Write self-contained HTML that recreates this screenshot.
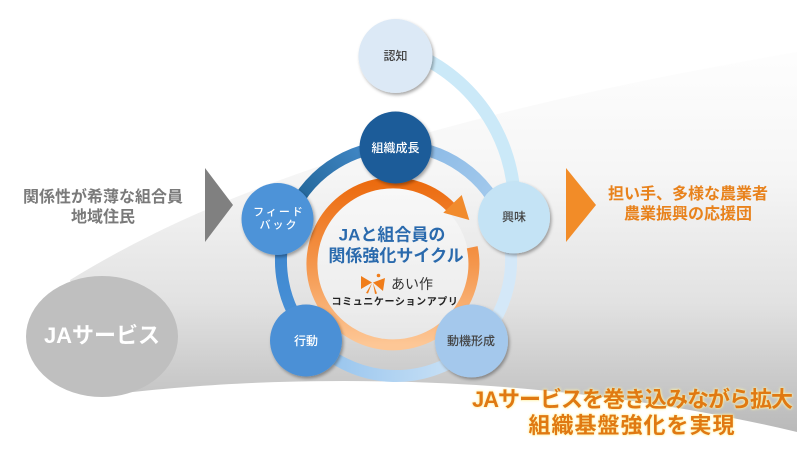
<!DOCTYPE html>
<html><head><meta charset="utf-8">
<style>
html,body{margin:0;padding:0;background:#fff;}
#c{position:relative;width:810px;height:456px;overflow:hidden;background:#fff;font-family:"Liberation Sans","Noto Sans CJK JP",sans-serif;}
svg{position:absolute;left:0;top:0;}
.t{position:absolute;transform:translate(-50%,-50%);white-space:nowrap;line-height:1;text-align:center;}
</style></head><body><div id="c">
<svg width="810" height="456" viewBox="0 0 810 456">
<defs>
 <linearGradient id="bg" gradientUnits="userSpaceOnUse" x1="0" y1="60" x2="0" y2="432">
  <stop offset="0" stop-color="#fdfdfd"/>
  <stop offset="0.3" stop-color="#f6f6f6"/>
  <stop offset="0.65" stop-color="#e2e2e2"/>
  <stop offset="1" stop-color="#b9b9b9"/>
 </linearGradient>
 <linearGradient id="g1" gradientUnits="userSpaceOnUse" x1="288" y1="221" x2="396" y2="146">
  <stop offset="0" stop-color="#1b5e8e"/><stop offset="1" stop-color="#4b92d4"/>
 </linearGradient>
 <linearGradient id="g2" gradientUnits="userSpaceOnUse" x1="396" y1="146" x2="504" y2="221">
  <stop offset="0" stop-color="#86b6e4"/><stop offset="1" stop-color="#a8cdee"/>
 </linearGradient>
 <linearGradient id="g4" gradientUnits="userSpaceOnUse" x1="475" y1="345" x2="310" y2="337">
  <stop offset="0" stop-color="#d0e5f7"/><stop offset="1" stop-color="#90c0ec"/>
 </linearGradient>
 <linearGradient id="g5" gradientUnits="userSpaceOnUse" x1="310" y1="337" x2="288" y2="221">
  <stop offset="0" stop-color="#4b93d9"/><stop offset="1" stop-color="#3b84cc"/>
 </linearGradient>
 <linearGradient id="go" gradientUnits="userSpaceOnUse" x1="0" y1="183" x2="0" y2="345">
  <stop offset="0" stop-color="#ec6b0f"/><stop offset="0.5" stop-color="#f4964c"/><stop offset="1" stop-color="#fdc796"/>
 </linearGradient>
 <filter id="sh" x="-30%" y="-30%" width="160%" height="160%">
  <feDropShadow dx="1.5" dy="2" stdDeviation="1.5" flood-color="#000" flood-opacity="0.35"/>
 </filter>
</defs>

<!-- funnel background -->
<path d="M 70 280 C 200 200, 400 120, 797 52 L 797 432 C 520 366, 250 376, 100 396 Z" fill="url(#bg)"/>
<!-- JA service ellipse -->
<ellipse cx="102" cy="336.5" rx="76" ry="60.5" fill="#bfbfbf"/>

<!-- arrows -->
<polygon points="205,168 233,205 205,242" fill="#808080"/>
<polygon points="566,168 596,205 566,242" fill="#f28c28"/>

<!-- outer light arc from 認知 to 興味 -->
<path d="M 405.3 50 A 166 166 0 0 1 514.5 206" fill="none" stroke="#cbe9f8" stroke-width="13"/>

<!-- blue ring segments -->
<path d="M 288.1 221.3 A 115 115 0 0 1 396 146" fill="none" stroke="url(#g1)" stroke-width="12"/>
<path d="M 396 146 A 115 115 0 0 1 503.8 220.9" fill="none" stroke="url(#g2)" stroke-width="12"/>
<path d="M 503.8 220.9 A 115 115 0 0 1 474.9 344.7" fill="none" stroke="#d4e8f8" stroke-width="12"/>
<path d="M 474.9 344.7 A 115 115 0 0 1 309.6 336.9" fill="none" stroke="url(#g4)" stroke-width="12"/>
<path d="M 309.6 336.9 A 115 115 0 0 1 288.1 221.3" fill="none" stroke="url(#g5)" stroke-width="12"/>

<!-- inner lighter disc -->
<circle cx="393" cy="264" r="76" fill="#ffffff" opacity="0.4"/>

<!-- orange ring with arrow -->
<path d="M 472.2 247.2 A 81 81 0 1 1 450.3 206.7" fill="none" stroke="url(#go)" stroke-width="11"/>
<polygon points="461.7,195 443.3,212.7 469.3,220" fill="#f18b2d"/>

<!-- logo icon -->
<g fill="#f07d1a">
 <polygon points="361,276 372,282.5 361,289"/>
 <polygon points="385,278 373,282.5 383,291"/>
 <circle cx="378.5" cy="275.5" r="1.8"/>
 <polygon points="372,283 366,293 368,293.5"/>
 <polygon points="373,283 375,294 377,293.5"/>
</g>

<!-- nodes -->
<g filter="url(#sh)">
 <circle cx="395.5" cy="56" r="37" fill="#dce9f6"/>
 <circle cx="395.5" cy="147.5" r="36" fill="#1f5c99"/>
 <circle cx="514" cy="217.5" r="36" fill="#c4e3f5"/>
 <circle cx="277.5" cy="219" r="36" fill="#4e93d8"/>
 <circle cx="306" cy="340.5" r="36" fill="#4b90d6"/>
 <circle cx="471.5" cy="341" r="36.5" fill="#a4c8ec"/>
</g>
</svg>

<div class="t" style="left:395.5px;top:56px;font-size:12px;color:#444;font-weight:500;">認知</div>
<div class="t" style="left:395.5px;top:148px;font-size:12px;color:#fff;font-weight:500;">組織成長</div>
<div class="t" style="left:514px;top:217px;font-size:12px;color:#444;font-weight:500;">興味</div>
<div class="t" style="left:279px;top:212.5px;font-size:11px;color:#fff;font-weight:500;letter-spacing:2px;">フィード</div>
<div class="t" style="left:279px;top:226px;font-size:11px;color:#fff;font-weight:500;letter-spacing:2px;">バック</div>
<div class="t" style="left:306px;top:341px;font-size:12px;color:#fff;font-weight:500;">行動</div>
<div class="t" style="left:471px;top:341px;font-size:12px;color:#444;font-weight:500;">動機形成</div>

<div class="t" style="left:392px;top:235px;font-size:17px;color:#2a6aad;font-weight:bold;">JAと組合員の</div>
<div class="t" style="left:396px;top:256px;font-size:17px;color:#2a6aad;font-weight:bold;">関係強化サイクル</div>
<div class="t" style="left:412px;top:284px;font-size:14px;color:#333;">あい作</div>
<div class="t" style="left:395px;top:303px;font-size:10px;color:#222;font-weight:bold;letter-spacing:0.6px;">コミュニケーションアプリ</div>

<div class="t" style="left:102px;top:336px;font-size:22px;color:#fff;font-weight:bold;">JAサービス</div>

<div class="t" style="left:103px;top:198px;font-size:16px;color:#7a7a7a;font-weight:bold;">関係性が希薄な組合員</div>
<div class="t" style="left:103px;top:218px;font-size:16px;color:#7a7a7a;font-weight:bold;">地域住民</div>

<div class="t" style="left:688px;top:195px;font-size:16px;color:#e8821c;font-weight:bold;">担い手、多様な農業者</div>
<div class="t" style="left:688px;top:215px;font-size:16px;color:#e8821c;font-weight:bold;">農業振興の応援団</div>

<div class="t" style="left:632px;top:400px;font-size:22px;color:#e07912;font-weight:bold;letter-spacing:-1px;text-shadow:0 0 2px #fff0a0,0 0 3px #fff3b0;">JAサービスを巻き込みながら拡大</div>
<div class="t" style="left:632px;top:426px;font-size:22px;color:#e07912;font-weight:bold;letter-spacing:1px;text-shadow:0 0 2px #fff0a0,0 0 3px #fff3b0;">組織基盤強化を実現</div>
</div></body></html>
